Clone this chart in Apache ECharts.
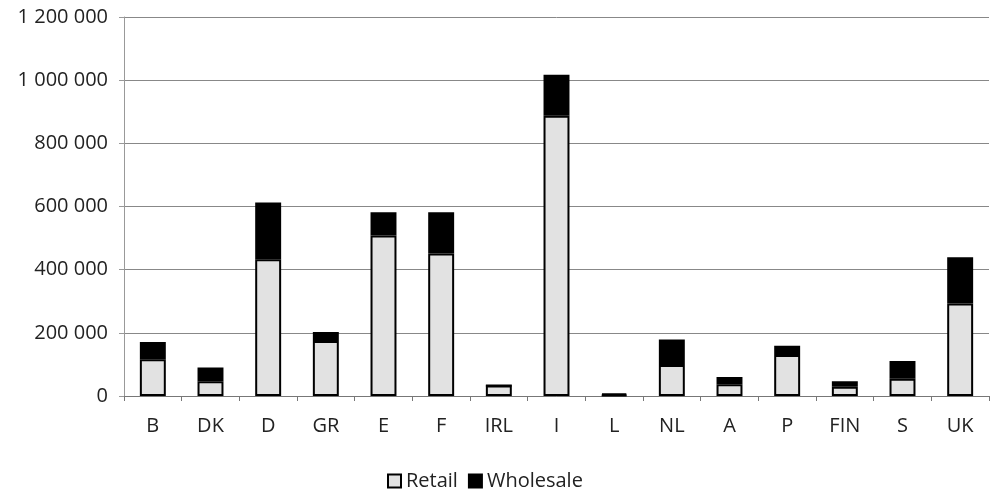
<!DOCTYPE html>
<html><head><meta charset="utf-8">
<script src="https://cdn.jsdelivr.net/npm/echarts@6/dist/echarts.min.js"></script>
<style>html,body{margin:0;padding:0;background:#fff}#c{width:997px;height:493px}</style>
</head><body><div id="c"></div>
<script>
const categories = ['B','DK','D','GR','E','F','IRL','I','L','NL','A','P','FIN','S','UK'];
const retail =    [116000, 47000, 433000, 174000, 508000, 451000, 33000, 887000, 3000, 98000, 37000, 130000, 29000, 55000, 293000];
const wholesale = [ 55000, 43000, 180000,  29000,  74000, 131000,     0, 130000, 5000, 81000, 23000,  29000, 18000, 56000, 146000];

const fmt = v => String(v).replace(/\B(?=(\d{3})+(?!\d))/g, ' ');
const font = '"Open Sans", "Noto Sans", sans-serif';
const chart = echarts.init(document.getElementById('c'));
chart.setOption({
  animation: false,
  backgroundColor: '#fff',
  grid: {left: 124, right: 8, top: 17, bottom: 97},
  legend: {
    top: 466, left: 382, icon: 'rect', itemWidth: 13, itemHeight: 13, itemGap: 10,
    textStyle: {fontFamily: font, fontSize: 20, color: '#222', padding: [0, 0, 0, 0]},
    data: ['Retail', 'Wholesale']
  },
  xAxis: {
    type: 'category', data: categories,
    axisLine: {lineStyle: {color: '#777', width: 1}},
    axisTick: {show: true, alignWithLabel: false, length: 5, lineStyle: {color: '#777'}},
    axisLabel: {fontFamily: font, fontSize: 20, color: '#222', margin: 20}
  },
  yAxis: {
    type: 'value', min: 0, max: 1200000, interval: 200000,
    axisLine: {show: true, lineStyle: {color: '#999'}},
    axisTick: {show: true, length: 5, lineStyle: {color: '#999'}},
    splitLine: {lineStyle: {color: '#888', width: 1}},
    axisLabel: {fontFamily: font, fontSize: 20, color: '#222', margin: 16, formatter: fmt}
  },
  series: [
    {name: 'Retail', type: 'bar', stack: 't', data: retail, barWidth: '45%',
     itemStyle: {color: '#e2e2e2', borderColor: '#000', borderWidth: 2}},
    {name: 'Wholesale', type: 'bar', stack: 't', data: wholesale, barWidth: '45%',
     itemStyle: {color: '#000', borderColor: '#000', borderWidth: 2}}
  ]
});
</script></body></html>
